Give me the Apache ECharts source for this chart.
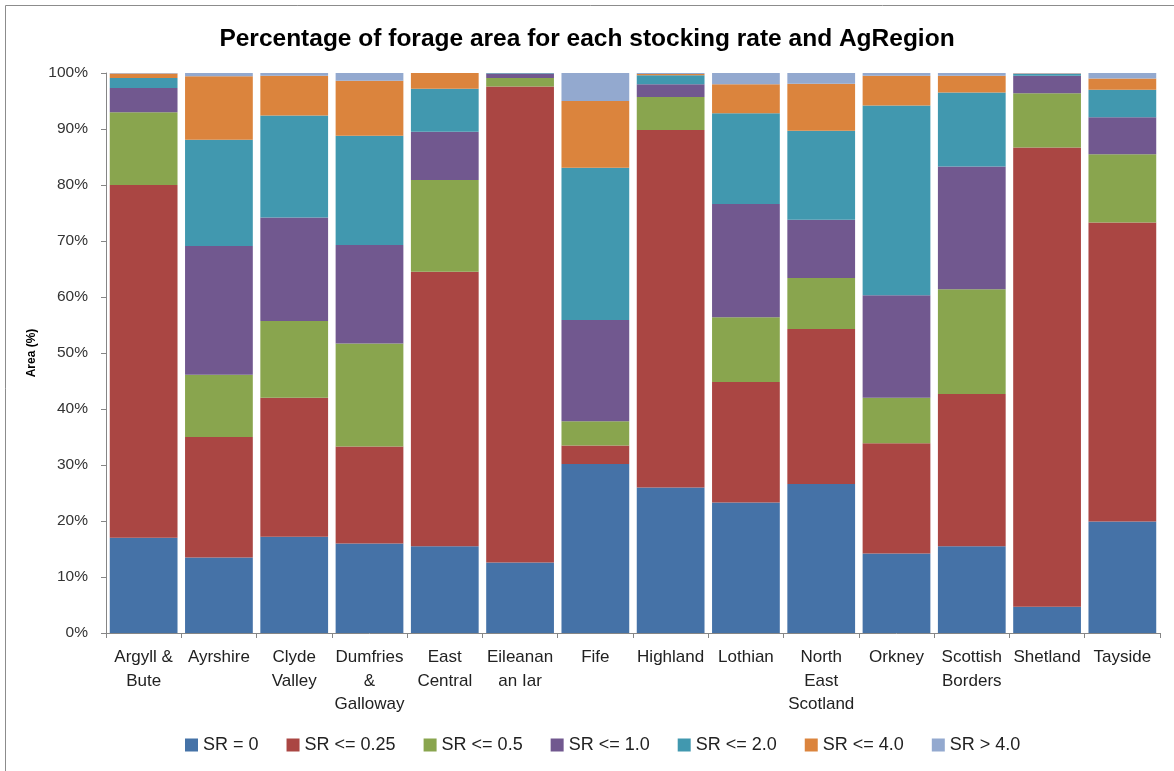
<!DOCTYPE html>
<html>
<head>
<meta charset="utf-8">
<script src="https://cdn.jsdelivr.net/npm/echarts@6/dist/echarts.min.js"></script>
<style>
  html, body { margin: 0; padding: 0; background: #fff; }
  #chart { width: 1174px; height: 771px; }
</style>
</head>
<body>
<div id="chart"></div>
<script>
// regions (x axis)
var regions = ['Argyll &\nBute', 'Ayrshire', 'Clyde\nValley', 'Dumfries\n&\nGalloway', 'East\nCentral',
  'Eileanan\nan Iar', 'Fife', 'Highland', 'Lothian', 'North\nEast\nScotland', 'Orkney',
  'Scottish\nBorders', 'Shetland', 'Tayside']

// share of forage area (%) per stocking rate class
var sr0 = [17.0, 13.5, 17.2, 16.0, 15.5, 12.6, 30.2, 26.0, 23.3, 26.6, 14.2, 15.5, 4.7, 19.9]
var sr025 = [63.0, 21.5, 24.8, 17.3, 49.0, 85.0, 3.3, 63.8, 21.5, 27.7, 19.7, 27.2, 82.0, 53.4]
var sr05 = [13.0, 11.1, 13.7, 18.4, 16.4, 1.5, 4.3, 5.9, 11.6, 9.1, 8.1, 18.7, 9.7, 12.2]
var sr1 = [4.3, 23.0, 18.5, 17.6, 8.6, 0.8, 18.1, 2.3, 20.2, 10.4, 18.3, 21.9, 3.1, 6.6]
var sr2 = [1.8, 19.0, 18.2, 19.5, 7.7, 0.1, 27.2, 1.6, 16.2, 15.9, 33.9, 13.2, 0.3, 4.9]
var sr4 = [0.8, 11.3, 7.1, 9.8, 2.8, 0, 11.9, 0.2, 5.2, 8.4, 5.3, 3.0, 0.1, 2.0]
var srOver4 = [0.1, 0.6, 0.5, 1.4, 0, 0, 5.0, 0.2, 2.0, 1.9, 0.5, 0.5, 0.1, 1.0]

var seriesNames = ['SR = 0', 'SR <= 0.25', 'SR <= 0.5', 'SR <= 1.0', 'SR <= 2.0', 'SR <= 4.0', 'SR > 4.0']
var seriesData = [sr0, sr025, sr05, sr1, sr2, sr4, srOver4]
var colors = ['#4572A7', '#AA4643', '#89A54E', '#71588F', '#4198AF', '#DB843D', '#93A9CF']

var font = 'Liberation Sans, Arial, sans-serif'

var myChart = echarts.init(document.getElementById('chart'))

myChart.setOption({
  animation: false,
  color: colors,
  textStyle: { fontFamily: font },
  title: {
    text: 'Percentage of forage area for each stocking rate and AgRegion',
    left: 'center',
    top: 22,
    textStyle: { fontSize: 24.5, fontWeight: 'bold', color: '#000', fontFamily: font }
  },
  graphic: [
    {
      type: 'rect',
      shape: { x: 5.5, y: 5.5, width: 1200, height: 800 },
      style: { fill: 'none', stroke: '#8c8c8c', lineWidth: 1 }
    }
  ],
  legend: {
    bottom: 12,
    left: 180,
    itemWidth: 13,
    itemHeight: 13,
    itemGap: 28,
    icon: 'rect',
    textStyle: { fontSize: 18, color: '#222', fontFamily: font },
    data: seriesNames
  },
  grid: {
    left: 106,
    right: 14,
    top: 73,
    bottom: 138
  },
  xAxis: {
    type: 'category',
    data: regions,
    axisLine: { lineStyle: { color: '#868686' } },
    axisTick: { show: true, length: 5, lineStyle: { color: '#868686' } },
    axisLabel: {
      interval: 0,
      margin: 13,
      fontSize: 17,
      lineHeight: 23.5,
      color: '#222',
      align: 'center',
      verticalAlign: 'top'
    }
  },
  yAxis: {
    type: 'value',
    min: 0,
    max: 100,
    interval: 10,
    name: 'Area (%)',
    nameLocation: 'middle',
    nameGap: 64,
    nameTextStyle: { fontSize: 12, fontWeight: 'bold', color: '#000' },
    axisLine: { show: true, lineStyle: { color: '#868686' } },
    axisTick: { show: true, length: 5, lineStyle: { color: '#868686' } },
    splitLine: { show: false },
    axisLabel: {
      formatter: '{value}%',
      fontSize: 15.5,
      color: '#333',
      margin: 18
    }
  },
  series: seriesNames.map(function(name, i) {
    return {
      name: name,
      type: 'bar',
      stack: 'total',
      barCategoryGap: '10%',
      data: seriesData[i]
    }
  })
})
</script>
</body>
</html>
